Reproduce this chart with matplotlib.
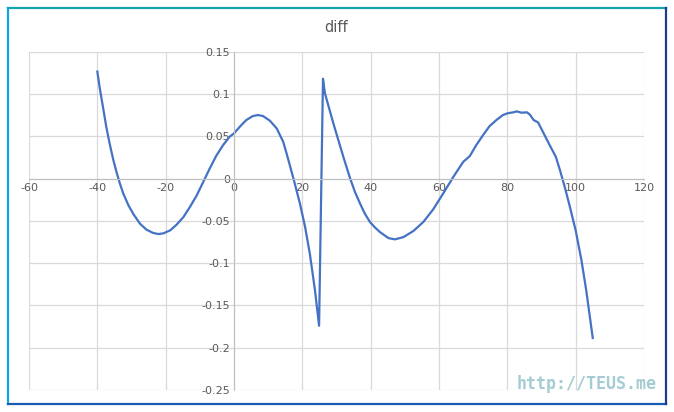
import numpy as np
import matplotlib.pyplot as plt
from matplotlib.lines import Line2D

plt.rcParams['axes.unicode_minus'] = False

# data
xs = [-40, -39.2, -38.2, -37.3, -36.3, -35.3, -34.4, -33.4, -32.4, -30.9, -29.4, -27.5,
      -25.6, -23.6, -22.1, -20.7, -18.7, -16.8, -14.8, -12.9, -10.9, -9.0, -7.1, -5.2,
      -3.2, -1.3, 0, 1.7, 3.6, 5.5, 7.0, 8.5, 10.5, 12.5, 14.4, 15.4, 17.4, 19.3, 20.8,
      22.2, 23.7, 24.9, 26.05, 26.6, 29.1, 32.0, 34.0, 35.4, 36.9, 38.3, 39.8, 41.3,
      42.7, 45.2, 47.1, 49.6, 52.5, 55.4, 58.3, 61.2, 64.2, 67.1, 69.0, 70.9, 72.9, 74.8,
      76.8, 78.7, 80.0, 81.7, 82.8, 84.1, 85.8, 86.7, 87.7, 89.0, 90.4, 92.4, 94.2, 95.4,
      96.8, 98.2, 100.0, 101.7, 103.1, 105.0]
ys = [0.1265, 0.1047, 0.081, 0.0593, 0.0395, 0.0217, 0.0079, -0.0059, -0.0178, -0.0316,
      -0.0423, -0.0534, -0.0605, -0.0644, -0.0656, -0.0648, -0.0613, -0.0545, -0.0455,
      -0.0336, -0.0198, -0.004, 0.0119, 0.0269, 0.0395, 0.0494, 0.0534, 0.0613, 0.0692,
      0.0739, 0.0751, 0.0739, 0.0684, 0.0593, 0.0435, 0.0296, 0.0, -0.0296, -0.057,
      -0.089, -0.132, -0.174, 0.118, 0.101, 0.065, 0.0257, 0.0, -0.0158, -0.0296, -0.0415,
      -0.0514, -0.058, -0.0632, -0.0704, -0.0719, -0.0692, -0.062, -0.0514, -0.0364,
      -0.0178, 0.002, 0.0198, 0.0265, 0.0395, 0.0514, 0.062, 0.0692, 0.0751, 0.0771,
      0.0783, 0.0794, 0.0779, 0.0783, 0.0751, 0.0692, 0.0664, 0.0553, 0.0395, 0.0257,
      0.0099, -0.0099, -0.0316, -0.0613, -0.0968, -0.1324, -0.1885]

xticks = [-60, -40, -20, 0, 20, 40, 60, 80, 100, 120]
yticks = [-0.25, -0.2, -0.15, -0.1, -0.05, 0, 0.05, 0.1, 0.15]
ylabels = ['-0.25', '-0.2', '-0.15', '-0.1', '-0.05', '0', '0.05', '0.1', '0.15']

W, H = 674, 412
fig = plt.figure(figsize=(W / 100, H / 100), dpi=100)
ax = fig.add_axes([29 / W, 1 - 390 / H, (644 - 29) / W, (390 - 51.7) / H])

ax.plot(xs, ys, color='#4472c4', lw=1.6, solid_joinstyle='round')

ax.set_xlim(-60, 120)
ax.set_ylim(-0.25, 0.15)
ax.set_xticks(xticks)
ax.set_yticks(yticks)
ax.set_yticklabels(ylabels)
ax.grid(True, color='#d9d9d9', lw=0.9)
ax.set_axisbelow(True)

for s in ['top', 'right']:
    ax.spines[s].set_visible(False)
ax.spines['left'].set_position(('data', 0))
ax.spines['bottom'].set_position(('data', 0))
ax.spines['left'].set_color('#bfbfbf')
ax.spines['bottom'].set_color('#bfbfbf')
ax.tick_params(length=0, labelsize=8, labelcolor='#595959', pad=3)

ax.set_title('diff', fontsize=10.5, color='#595959', pad=14)

# frame around chart
def fl(x0, y0, x1, y1, c):
    fig.add_artist(Line2D([x0 / W, x1 / W], [1 - y0 / H, 1 - y1 / H], color=c, lw=1.6))

fl(8, 8, 666, 8, '#13a6b2')
fl(8, 8, 8, 404, '#12a2dc')
fl(8, 404, 666, 404, '#1b5cb5')
fl(666, 8, 666, 404, '#1e3d86')

# watermark
fig.text(587 / W, 1 - 384 / H, 'http://TEUS.me', fontsize=12, fontweight='bold',
         color='#8fbfc8', alpha=0.8, ha='center', va='center', family='DejaVu Sans Mono')

fig.savefig('out.png', dpi=100)
